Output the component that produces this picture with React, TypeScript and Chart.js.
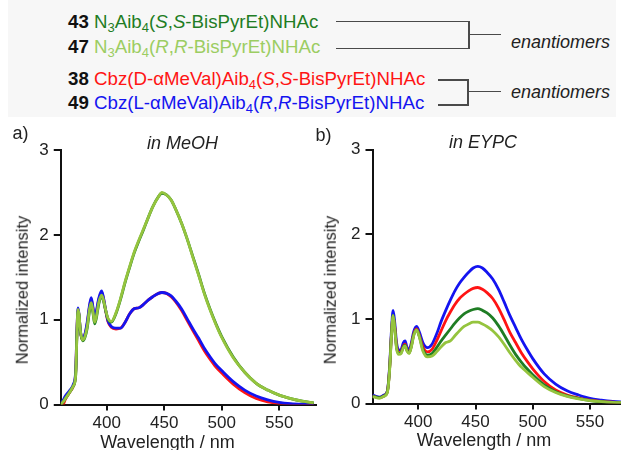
import React, { useEffect, useRef } from "react";
import { Chart, registerables } from "chart.js";

Chart.register(...registerables);

const FONT = '"Liberation Sans", Arial, Helvetica, sans-serif';

// ---- Panel a) in MeOH ----
const wavelengthMeOH = [
  360, 362, 364, 368, 371, 373, 374, 375, 376, 377, 379, 381, 383, 385, 386.5,
  388, 389.5, 391, 393, 395.5, 397, 399, 401, 404, 408, 412, 416, 420, 424, 428,
  432, 436, 440, 445, 448, 452, 456, 460, 465, 470, 475, 480, 485, 490, 495, 500,
  510, 520, 530, 540, 550, 560, 570, 580,
];
const meoh47 = [
  0, 0.03, 0.07, 0.15, 0.22, 0.35, 0.8, 1.12, 1.05, 0.88, 0.76, 0.8, 0.92, 1.12, 1.2,
  1.1, 0.97, 1.04, 1.2, 1.29, 1.24, 1.12, 1.02, 0.98, 1.08, 1.25, 1.45, 1.63, 1.8, 1.94,
  2.07, 2.2, 2.33, 2.45, 2.5, 2.47, 2.41, 2.3, 2.14, 1.95, 1.73, 1.52, 1.3, 1.11, 0.94, 0.79,
  0.55, 0.38, 0.25, 0.17, 0.11, 0.07, 0.04, 0.02,
];
const meoh43 = [
  0, 0.03, 0.07, 0.15, 0.22, 0.34, 0.78, 1.1, 1.04, 0.87, 0.75, 0.79, 0.9, 1.1, 1.19,
  1.08, 0.95, 1.02, 1.18, 1.28, 1.23, 1.11, 1.01, 0.97, 1.07, 1.24, 1.44, 1.62, 1.79, 1.93,
  2.06, 2.2, 2.33, 2.45, 2.49, 2.47, 2.41, 2.3, 2.14, 1.95, 1.74, 1.53, 1.31, 1.12, 0.95, 0.8,
  0.56, 0.38, 0.25, 0.17, 0.11, 0.07, 0.04, 0.02,
];
const meoh49 = [
  0.02, 0.05, 0.1, 0.17, 0.24, 0.4, 0.85, 1.14, 1.05, 0.88, 0.77, 0.83, 0.97, 1.17, 1.26,
  1.15, 1.02, 1.1, 1.25, 1.34, 1.27, 1.12, 0.99, 0.92, 0.9, 0.9, 0.97, 1.07, 1.13, 1.14,
  1.18, 1.23, 1.27, 1.31, 1.32, 1.31, 1.28, 1.22, 1.13, 1.01, 0.89, 0.78, 0.66, 0.56, 0.47, 0.4,
  0.27, 0.17, 0.1, 0.055, 0.025, 0.01, 0.003, 0,
];
const meoh38 = [
  0, 0, 0.06, 0.15, 0.22, 0.38, 0.83, 1.12, 1.04, 0.87, 0.76, 0.82, 0.95, 1.15, 1.24,
  1.13, 1.0, 1.08, 1.23, 1.32, 1.26, 1.11, 0.98, 0.91, 0.89, 0.9, 0.97, 1.07, 1.13, 1.14,
  1.18, 1.23, 1.27, 1.31, 1.32, 1.31, 1.27, 1.21, 1.11, 0.99, 0.87, 0.75, 0.63, 0.53, 0.44, 0.37,
  0.24, 0.14, 0.07, 0.03, 0.01, 0, 0, 0,
];

// ---- Panel b) in EYPC ----
const wavelengthEYPC = [
  360, 362, 366, 370, 373, 375, 376.5, 378, 379.5, 381, 383, 385, 387, 388.5, 390,
  392, 394, 396, 398.5, 401, 404, 408, 412, 416, 420, 424, 428, 432, 436, 440,
  444, 448, 452, 456, 460, 465, 470, 475, 480, 485, 490, 495, 500, 510, 520,
  530, 540, 550, 560, 570, 580,
];
const eypc49 = [
  0.1, 0.09, 0.075, 0.1, 0.15, 0.45, 0.85, 1.1, 0.95, 0.72, 0.63, 0.64, 0.72, 0.74, 0.67,
  0.63, 0.72, 0.85, 0.91, 0.84, 0.72, 0.66, 0.7, 0.82, 0.97, 1.1, 1.22, 1.33, 1.42, 1.49,
  1.55, 1.6, 1.62, 1.6, 1.55, 1.47, 1.35, 1.2, 1.04, 0.9, 0.76, 0.64, 0.53, 0.35, 0.23,
  0.15, 0.1, 0.06, 0.04, 0.025, 0.015,
];
const eypc38 = [
  0.09, 0.08, 0.07, 0.09, 0.14, 0.42, 0.8, 1.03, 0.9, 0.68, 0.6, 0.61, 0.68, 0.7, 0.64,
  0.6, 0.69, 0.82, 0.88, 0.8, 0.67, 0.61, 0.64, 0.74, 0.86, 0.98, 1.08, 1.17, 1.24, 1.29,
  1.33, 1.36, 1.37, 1.35, 1.31, 1.24, 1.13, 0.99, 0.84, 0.72, 0.6, 0.5, 0.41, 0.26, 0.16,
  0.1, 0.065, 0.04, 0.025, 0.015, 0.01,
];
const eypc43 = [
  0.09, 0.08, 0.07, 0.09, 0.14, 0.42, 0.8, 1.04, 0.88, 0.66, 0.59, 0.6, 0.67, 0.69, 0.63,
  0.6, 0.68, 0.81, 0.87, 0.79, 0.64, 0.57, 0.59, 0.66, 0.74, 0.81, 0.88, 0.95, 1.01, 1.06,
  1.09, 1.11, 1.12, 1.1, 1.07, 1.01, 0.92, 0.81, 0.69, 0.58, 0.49, 0.41, 0.34, 0.22, 0.14,
  0.09, 0.06, 0.035, 0.022, 0.013, 0.008,
];
const eypc47 = [
  0.08, 0.075, 0.06, 0.085, 0.13, 0.4, 0.78, 1.04, 0.87, 0.65, 0.58, 0.59, 0.66, 0.68, 0.62,
  0.59, 0.67, 0.8, 0.87, 0.78, 0.62, 0.55, 0.56, 0.61, 0.67, 0.72, 0.74, 0.8, 0.86, 0.91,
  0.94, 0.96, 0.96, 0.94, 0.91, 0.86, 0.79, 0.7, 0.6, 0.51, 0.43, 0.37, 0.31, 0.2, 0.13,
  0.085, 0.055, 0.035, 0.022, 0.013, 0.008,
];

const xTicks = [400, 450, 500, 550];
const yTicks = [0, 1, 2, 3];

const DARK_GREEN = "#1f7d24";
const LIGHT_GREEN = "#95c43e";
const RED = "#ff1414";
const BLUE = "#1414f0";

type Series = { label: string; values: number[]; color: string };

type PanelProps = {
  wl: number[];
  series: Series[];
  left: number;
  top: number;
  width: number;
  height: number;
  yAxisWidth: number;
  xAxisHeight: number;
  padTop: number;
  padRight: number;
};

function Panel(p: PanelProps) {
  const ref = useRef<HTMLCanvasElement>(null);
  useEffect(() => {
    const axisColor = "#111";
    const chart = new Chart(ref.current as HTMLCanvasElement, {
      type: "line",
      data: {
        datasets: p.series.map((s) => ({
          label: s.label,
          data: p.wl.map((x, i) => ({ x, y: s.values[i] })),
          borderColor: s.color,
          backgroundColor: s.color,
          borderWidth: 2.8,
          pointRadius: 0,
          fill: false,
          cubicInterpolationMode: "monotone",
        })),
      },
      options: {
        responsive: false,
        animation: false,
        layout: { padding: { top: p.padTop, right: p.padRight, left: 0, bottom: 0 } },
        plugins: {
          legend: { display: false },
          tooltip: { enabled: false },
        },
        scales: {
          x: {
            type: "linear",
            min: 360,
            max: 582,
            afterBuildTicks: (s: any) => {
              s.ticks = xTicks.map((v) => ({ value: v }));
            },
            afterFit: (s: any) => {
              s.height = p.xAxisHeight;
            },
            ticks: {
              font: { family: FONT, size: 17 },
              color: "#222",
              padding: 3,
              maxRotation: 0,
              autoSkip: false,
            },
            grid: {
              drawOnChartArea: false,
              drawTicks: true,
              tickLength: 6,
              color: axisColor,
              lineWidth: 2,
            },
            border: { display: true, color: axisColor, width: 2 },
          },
          y: {
            type: "linear",
            min: 0,
            max: 3,
            afterBuildTicks: (s: any) => {
              s.ticks = yTicks.map((v) => ({ value: v }));
            },
            afterFit: (s: any) => {
              s.width = p.yAxisWidth;
            },
            ticks: {
              font: { family: FONT, size: 17 },
              color: "#222",
              padding: 5,
            },
            grid: {
              drawOnChartArea: false,
              drawTicks: true,
              tickLength: 7,
              color: axisColor,
              lineWidth: 2,
            },
            border: { display: true, color: axisColor, width: 2 },
          },
        },
      } as any,
    });
    return () => chart.destroy();
  }, []);
  return (
    <canvas
      ref={ref}
      width={p.width}
      height={p.height}
      style={{ position: "absolute", left: p.left, top: p.top, width: p.width, height: p.height }}
    />
  );
}

const Sub = ({ children }: { children: React.ReactNode }) => (
  <span style={{ fontSize: 13, position: "relative", top: 4 }}>{children}</span>
);

function Row({ y, num, color, children }: { y: number; num: string; color: string; children: React.ReactNode }) {
  return (
    <div
      style={{
        position: "absolute",
        left: 68,
        top: y,
        transform: "translateY(-50%)",
        fontFamily: FONT,
        fontSize: 18.7,
        lineHeight: 1,
        whiteSpace: "nowrap",
      }}
    >
      <b style={{ color: "#111" }}>{num}</b> <span style={{ color }}>{children}</span>
    </div>
  );
}

function Line({ x1, y1, x2, y2 }: { x1: number; y1: number; x2: number; y2: number }) {
  const horiz = y1 === y2;
  return (
    <div
      style={{
        position: "absolute",
        left: horiz ? x1 : x1 - 0.75,
        top: y1 - 0.75,
        width: horiz ? x2 - x1 : 1.5,
        height: horiz ? 1.5 : y2 - y1 + 1.5,
        background: "#4a4a4a",
      }}
    />
  );
}

function Text({
  x, y, children, size = 18, italic = false, rotate = false,
}: { x: number; y: number; children: React.ReactNode; size?: number; italic?: boolean; rotate?: boolean }) {
  return (
    <div
      style={{
        position: "absolute",
        left: x,
        top: y,
        transform: `translate(-50%, -50%)${rotate ? " rotate(-90deg)" : ""}`,
        fontFamily: FONT,
        fontSize: size,
        fontStyle: italic ? "italic" : "normal",
        lineHeight: 1,
        whiteSpace: "nowrap",
        color: "#222",
      }}
    >
      {children}
    </div>
  );
}

export default function App() {
  const meohSeries: Series[] = [
    { label: "47", values: meoh47, color: LIGHT_GREEN },
    { label: "43", values: meoh43, color: DARK_GREEN },
    { label: "49", values: meoh49, color: BLUE },
    { label: "38", values: meoh38, color: RED },
  ];
  const eypcSeries: Series[] = [
    { label: "47", values: eypc47, color: LIGHT_GREEN },
    { label: "43", values: eypc43, color: DARK_GREEN },
    { label: "38", values: eypc38, color: RED },
    { label: "49", values: eypc49, color: BLUE },
  ];
  return (
    <div
      style={{
        position: "absolute",
        left: 0,
        top: 0,
        width: 621,
        height: 450,
        overflow: "hidden",
        background: "#fff",
      }}
    >
      <div style={{ position: "absolute", left: 8, top: 0, width: 608, height: 117, background: "#f7f7f7" }} />
      <Row y={22} num="43" color={DARK_GREEN}>
        N<Sub>3</Sub>Aib<Sub>4</Sub>(<i>S</i>,<i>S</i>-BisPyrEt)NHAc
      </Row>
      <Row y={47} num="47" color="#9ccd62">
        N<Sub>3</Sub>Aib<Sub>4</Sub>(<i>R</i>,<i>R</i>-BisPyrEt)NHAc
      </Row>
      <Row y={79} num="38" color={RED}>
        Cbz(D-αMeVal)Aib<Sub>4</Sub>(<i>S</i>,<i>S</i>-BisPyrEt)NHAc
      </Row>
      <Row y={103} num="49" color={BLUE}>
        Cbz(L-αMeVal)Aib<Sub>4</Sub>(<i>R</i>,<i>R</i>-BisPyrEt)NHAc
      </Row>
      <Line x1={336} y1={21.7} x2={469} y2={21.7} />
      <Line x1={336} y1={48.3} x2={469} y2={48.3} />
      <Line x1={469} y1={21.7} x2={469} y2={48.3} />
      <Line x1={469} y1={34.3} x2={501} y2={34.3} />
      <Line x1={438} y1={80} x2={468} y2={80} />
      <Line x1={438} y1={105} x2={468} y2={105} />
      <Line x1={468} y1={80} x2={468} y2={105} />
      <Line x1={468} y1={91.7} x2={501} y2={91.7} />
      <Text x={560.5} y={41.7} italic>enantiomers</Text>
      <Text x={560.5} y={91.7} italic>enantiomers</Text>

      <Panel
        wl={wavelengthMeOH}
        series={meohSeries}
        left={0}
        top={130}
        width={330}
        height={320}
        yAxisWidth={60.75}
        xAxisHeight={45.5}
        padTop={20}
        padRight={14}
      />
      <Panel
        wl={wavelengthEYPC}
        series={eypcSeries}
        left={310}
        top={130}
        width={330}
        height={320}
        yAxisWidth={62.5}
        xAxisHeight={46.5}
        padTop={19.5}
        padRight={13.4}
      />

      <Text x={20.5} y={133}>a)</Text>
      <Text x={323.5} y={135}>b)</Text>
      <Text x={182.5} y={143} italic>in MeOH</Text>
      <Text x={483} y={142} italic>in EYPC</Text>
      <Text x={21.7} y={290} size={16.5} rotate>Normalized intensity</Text>
      <Text x={330} y={290} size={16.5} rotate>Normalized intensity</Text>
      <Text x={167.5} y={441.5}>Wavelength / nm</Text>
      <Text x={484} y={440}>Wavelength / nm</Text>
    </div>
  );
}
